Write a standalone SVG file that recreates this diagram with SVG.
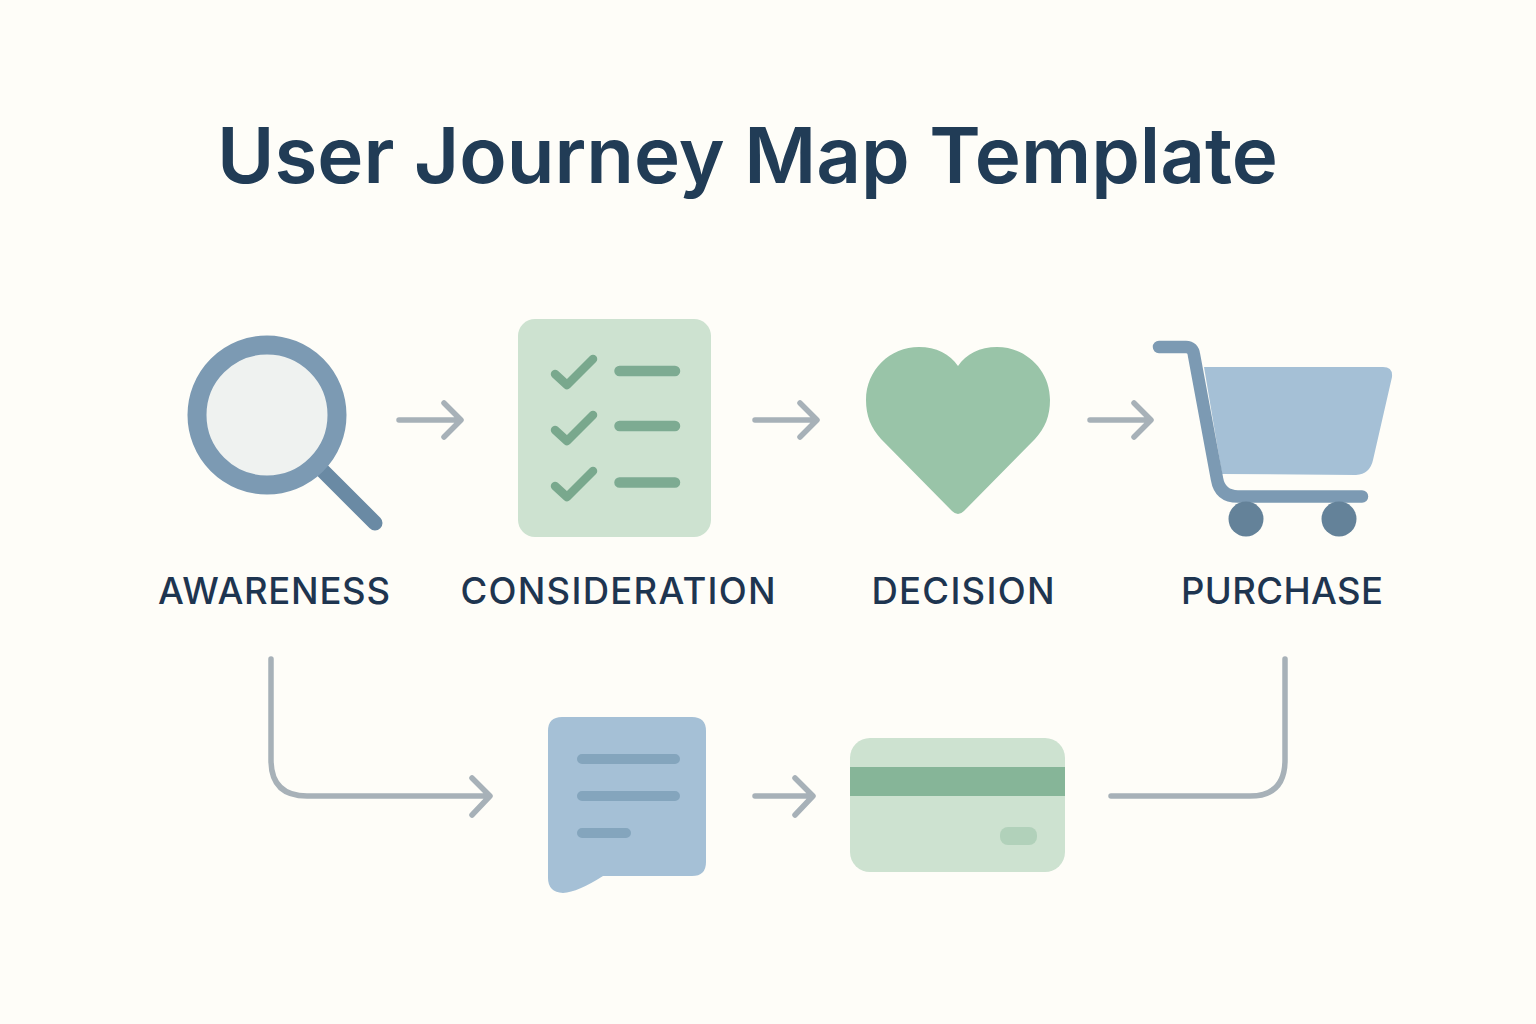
<svg xmlns="http://www.w3.org/2000/svg" width="1536" height="1024" viewBox="0 0 1536 1024">
<defs><style>
.t{font-family:"Inter","Liberation Sans",sans-serif;fill:#1e3550}
.l{font-size:36.5px;font-weight:550;text-anchor:middle}
.c{fill:none;stroke:#a7b1b8;stroke-width:5.5px;stroke-linecap:round;stroke-linejoin:round}
.cl{stroke:#7dab92;stroke-width:10.5px;stroke-linecap:round}
.bl{stroke:#84a5bd;stroke-width:10px;stroke-linecap:round}
</style></defs>
<rect width="1536" height="1024" fill="#fefdf8"/>
<text x="217" y="183" class="t" style="fill:#213c56" font-size="77" font-weight="600" textLength="1061" lengthAdjust="spacingAndGlyphs">User Journey Map Template</text>
<g id="connectors">
<path class="c" d="M399 420H460M444 403L461 420L444 437"/>
<path class="c" d="M755 420H815M800 403L817 420L800 437"/>
<path class="c" d="M1090 420H1149M1134 403L1151 420L1134 437"/>
<path class="c" d="M271 659V760Q271 796 307 796H488M472 778L490 796L472 815"/>
<path class="c" d="M755 796H811M795 778L813 796L795 815"/>
<path class="c" d="M1111 796H1250Q1285 796 1285 760V659"/>
</g>
<g id="awareness">
<path d="M323 471L375 523" stroke="#6a8aa4" stroke-width="15" stroke-linecap="round"/>
<circle cx="267" cy="415" r="70" fill="#eff2f0" stroke="#7c9ab3" stroke-width="19"/>
<text x="274" y="603.500" class="t l" textLength="232">AWARENESS</text>
</g>
<g id="consideration">
<rect x="518" y="319" width="193" height="218" rx="17" fill="#cde2d0"/>
<path d="M555 374L567 385L593 359M555 430L567 441L593 415M555 486L567 497L593 471" fill="none" stroke="#79a88d" stroke-width="8.5" stroke-linecap="round" stroke-linejoin="round"/>
<path class="cl" d="M619.5 371H675M619.5 426H675M619.5 482.500H675"/>
<text x="618" y="603.500" class="t l" textLength="315">CONSIDERATION</text>
</g>
<g id="decision">
<path d="M958 514Q955 514 952 511L881 439C871 428 866 416 866 400C866 370 890 347 919 347C936 347 950 354 958 366C966 354 980 347 997 347C1026 347 1050 370 1050 400C1050 416 1045 428 1035 439L964 511Q961 514 958 514Z" fill="#99c4a8"/>
<text x="963" y="603.500" class="t l" textLength="183">DECISION</text>
</g>
<g id="purchase">
<path d="M1204 367H1383Q1393 367 1392 377L1373 460Q1370 474 1356 475L1222 474Z" fill="#a5c0d6"/>
<path d="M1159 347H1186Q1193 347 1194 355L1217 479Q1220 496.500 1238 496.500H1362" fill="none" stroke="#7c9ab3" stroke-width="12.500" stroke-linecap="round" stroke-linejoin="round"/>
<circle cx="1246" cy="519" r="17.500" fill="#648299"/>
<circle cx="1339" cy="519" r="17.500" fill="#648299"/>
<text x="1282" y="603.500" class="t l" textLength="202">PURCHASE</text>
</g>
<g id="feedback">
<path d="M562 717H692Q706 717 706 731V862Q706 876 692 876H603Q578 892 563 893Q548 892 548 878V731Q548 717 562 717Z" fill="#a5c0d6"/>
<path class="bl" d="M582 759H675M582 796H675M582 833H626"/>
</g>
<g id="payment">
<rect x="850" y="738" width="215" height="134" rx="20" fill="#cde2d0"/>
<rect x="850" y="767" width="215" height="29" fill="#86b598"/>
<rect x="1000" y="827" width="37" height="18" rx="8" fill="#b1d1ba"/>
</g>
</svg>
